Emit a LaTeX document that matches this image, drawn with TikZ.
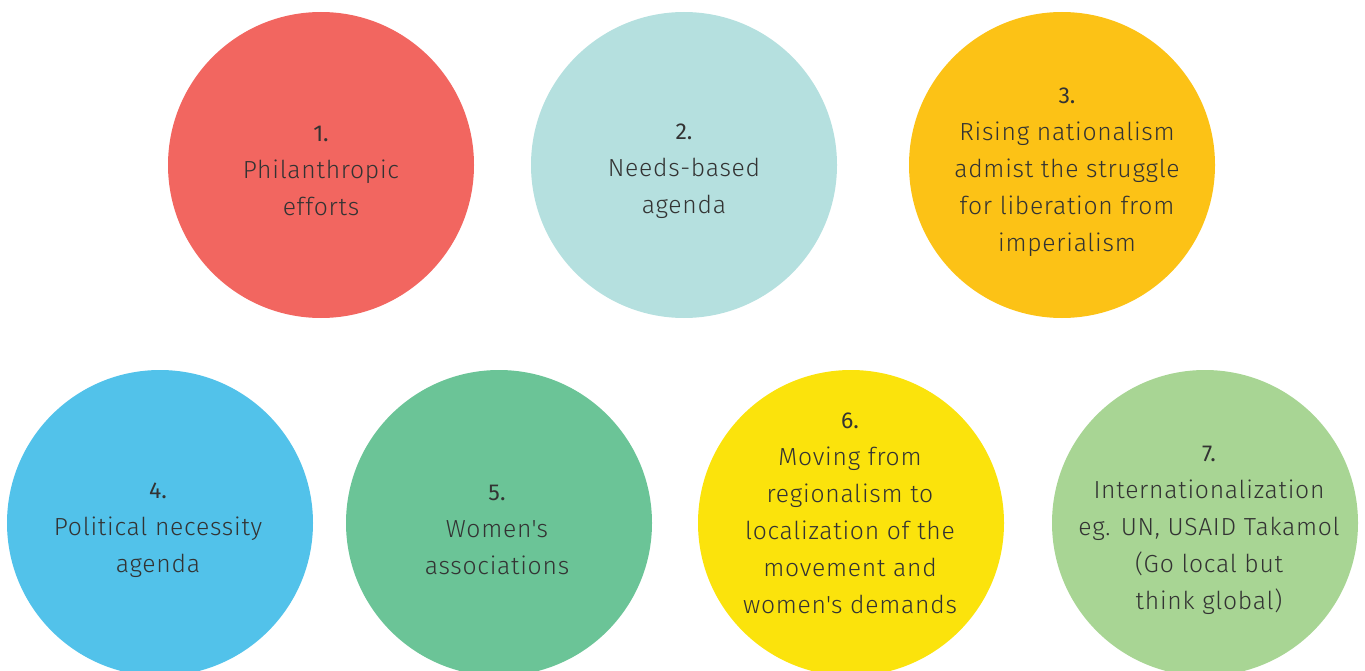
\documentclass[tikz,border=0pt]{standalone}
\usepackage{fontspec}
\setmainfont{Fira Sans Light}[LetterSpace=3]
\newfontfamily\numfont{Fira Sans}
\definecolor{cA}{HTML}{F26660}
\definecolor{cB}{HTML}{B5E0DF}
\definecolor{cC}{HTML}{FCC216}
\definecolor{cD}{HTML}{52C2EA}
\definecolor{cE}{HTML}{6BC497}
\definecolor{cF}{HTML}{FBE30C}
\definecolor{cG}{HTML}{A8D594}
\definecolor{txt}{HTML}{333333}
\begin{document}
\begin{tikzpicture}[x=1pt,y=-1pt,
  disc/.style={circle,minimum size=306pt,inner sep=0pt,draw=none},
  lbl/.style={align=center,text=txt,font=\fontsize{24.7}{37}\selectfont,inner sep=0pt},
]
\useasboundingbox (0,0) rectangle (1365,671);
\begin{scope}
\clip (0,0) rectangle (1365,671);
\node[disc,fill=cA] (c1) at (321,165) {};
\node[disc,fill=cB] (c2) at (684,165) {};
\node[disc,fill=cC] (c3) at (1062,165) {};
\node[disc,fill=cD] (c4) at (160,523) {};
\node[disc,fill=cE] (c5) at (499,523) {};
\node[disc,fill=cF] (c6) at (851,523) {};
\node[disc,fill=cG] (c7) at (1205,523) {};
\end{scope}
\newcommand{\nm}[1]{{\numfont\fontsize{23}{37}\selectfont #1}}
\newcommand{\ap}{\textquotesingle}
\node[lbl] (t1) at (321,171) {\nm{1.}\\Philanthropic\\efforts};
\node[lbl] (t2) at (684,171) {\nm{2.}\\Needs-based\\agenda};
\node[lbl] (t3) at (1067,172) {\nm{3.}\\Rising nationalism\\admist the struggle\\for liberation from\\imperialism};
\node[lbl] (t4) at (158,530) {\nm{4.}\\Political necessity\\agenda};
\node[lbl] (t5) at (497,530) {\nm{5.}\\Women\ap s\\associations};
\node[lbl] (t6) at (850,513) {\nm{6.}\\Moving from\\regionalism to\\localization of the\\movement and\\women\ap s demands};
\node[lbl] (t7) at (1209,530) {\nm{7.}\\Internationalization\\eg. UN, USAID Takamol\\(Go local but\\think global)};
\end{tikzpicture}
\end{document}
